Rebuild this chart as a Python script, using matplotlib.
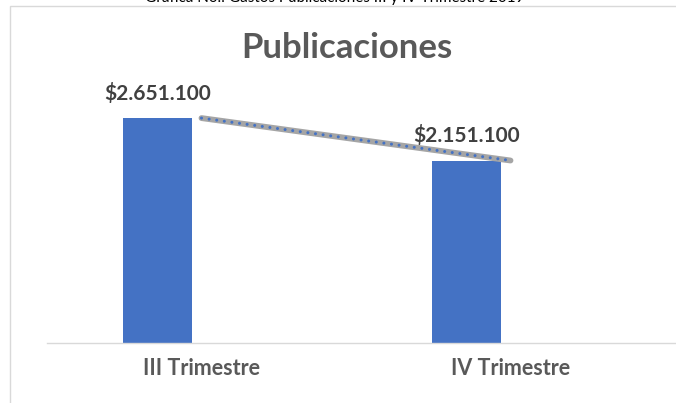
import matplotlib.pyplot as plt
from matplotlib.patches import Rectangle

categories = ['III Trimestre', 'IV Trimestre']
gastos = [2651100, 2151100]
etiquetas = ['$2.651.100', '$2.151.100']

plt.rcParams['font.family'] = ['Lato', 'DejaVu Sans']

W, H = 676, 403
fig = plt.figure(figsize=(W / 100, H / 100), dpi=100)

# marco del gráfico (recortado a la derecha y abajo)
fig.patches.append(Rectangle((9.5 / W, -0.1), 1.2, 1.1 - 6.5 / H, transform=fig.transFigure,
                             fill=False, edgecolor='#D9D9D9', linewidth=1))

# texto de la tabla de arriba, cortado por el borde
fig.text(335 / W, 1 - 2 / H, 'Gráfica No.: Gastos Publicaciones III y IV Trimestre 2019',
         ha='center', va='baseline', fontsize=11, color='black')

ax = fig.add_axes([47 / W, 60 / H, 1 - 47 / W, 263 / H])
x = [0, 1]
xb = [i - 0.143 for i in x]
ax.bar(xb, gastos, width=0.223, color='#4472C4', zorder=2)
# línea de tendencia: gris gruesa con puntos azules encima
ax.plot(x, gastos, color='#A5A5A5', linewidth=4.2, solid_capstyle='round', zorder=3)
ax.plot(x, gastos, color='#4472C4', linewidth=2.2, linestyle=(0, (0.01, 2.5)),
        dash_capstyle='round', zorder=4)

for xi, v, t in zip(xb, gastos, etiquetas):
    ax.annotate(t, (xi, v), xytext=(0, 25), textcoords='offset pixels',
                ha='center', va='center', fontsize=15, fontweight='bold', color='#404040')

ax.set_xlim(-0.5, (676 - 201.5) / 309)
ax.set_ylim(0, 3100000)
ax.set_xticks(x)
ax.set_xticklabels(categories, fontsize=15.5, fontweight='bold', color='#595959')
ax.tick_params(axis='x', length=0, pad=11)
ax.set_yticks([])
for s in ['top', 'right', 'left']:
    ax.spines[s].set_visible(False)
ax.spines['bottom'].set_color('#D9D9D9')
ax.spines['bottom'].set_linewidth(1)
ax.patch.set_alpha(0)

fig.text(347 / W, 1 - 48 / H, 'Publicaciones', ha='center', va='center',
         fontsize=25, fontweight='bold', color='#595959')

fig.savefig('out.png', dpi=100)
